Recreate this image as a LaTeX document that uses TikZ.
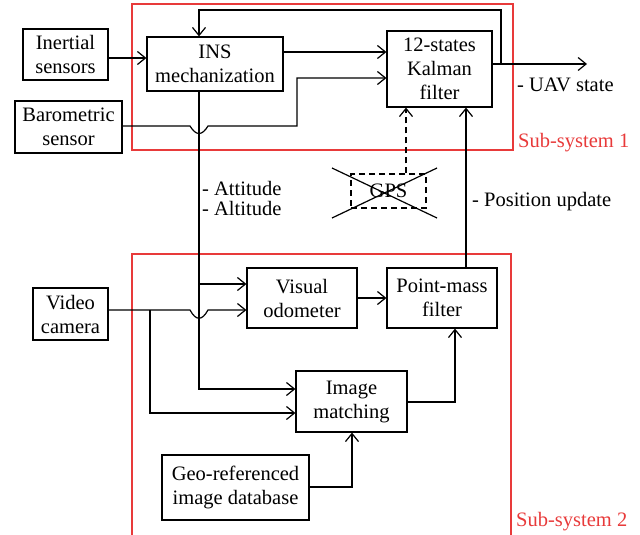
\documentclass[tikz,border=0pt]{standalone}
\usepackage{fontspec}
\setmainfont{Liberation Serif}
\usetikzlibrary{arrows.meta,calc}
\definecolor{subred}{RGB}{232,58,58}
\begin{document}
\begin{tikzpicture}[x=1pt,y=-1pt,
  every node/.style={font=\fontsize{20.5}{24}\selectfont},
  box/.style={draw,line width=1.2pt,align=center,inner sep=0pt},
  conn/.style={line width=1.2pt},
  arr/.style={conn,-{Straight Barb[length=8pt,width=13pt,line width=1.2pt]}},
  dsh/.style={dash pattern=on 6pt off 4pt},
  lbl/.style={anchor=west,inner sep=0pt},
  redbox/.style={draw=subred,line width=1.3pt}]
\useasboundingbox (0,0) rectangle (640,535);
% sub-system frames
\draw[redbox] (132,4) rectangle (513,150);
\draw[redbox] (132,540) -- (132,254) -- (511,254) -- (511,540);
\node[lbl,text=subred] (s1) at (518,143) {Sub-system 1};
\node[lbl,text=subred] (s2) at (516,522) {Sub-system 2};
% blocks
\node[box,minimum width=85,minimum height=51] (IS) at (65.5,54.5) {Inertial\\sensors};
\node[box,minimum width=136,minimum height=54] (INS) at (215,64) {INS\\mechanization};
\node[box,minimum width=107,minimum height=52] (BS) at (68.5,127) {Barometric\\sensor};
\node[box,minimum width=105,minimum height=76] (KF) at (439.5,69) {12-states\\Kalman\\filter};
\node[box,dsh,minimum width=75,minimum height=34] (GPS) at (388.5,191) {GPS};
\node[box,minimum width=110,minimum height=60] (VO) at (302,298) {Visual\\odometer};
\node[box,minimum width=110,minimum height=60] (PM) at (442,298) {Point-mass\\filter};
\node[box,minimum width=111,minimum height=61] (IM) at (351.5,401.5) {Image\\matching};
\node[box,minimum width=75,minimum height=52] (VC) at (70.5,314) {Video\\camera};
\node[box,minimum width=147,minimum height=65] (GR) at (235.5,487.5) {Geo-referenced\\image database};
% GPS cross
\draw[conn] (332,168) -- (437,218);
\draw[conn] (332,218) -- (437,168);
% connectors
\draw[arr] (IS.east |- 0,58) -- (INS.west |- 0,58);
\draw[arr] (INS.east |- 0,52) -- (KF.west |- 0,52);
\draw[arr] (BS.east |- 0,126) -- (190,126) .. controls (196,136) and (202,136) .. (208,126)
  -- (297,126) -- (297,78) -- (KF.west |- 0,78);
\coordinate (fb) at (501,64);
\draw[arr] (KF.east |- fb) -- (fb) -- (501,10) -- (199,10) -- (INS.north -| 199,0);
\coordinate (out) at (587,64);
\draw[arr] (KF.east |- out) -- (out);
\node[lbl] (uav) at (517,85) {- UAV state};
\draw[arr,dsh] (GPS.north -| 406,0) -- (KF.south -| 406,0);
\draw[arr] (PM.north -| 466,0) -- (KF.south -| 466,0);
\node[lbl] (pu) at (472,202) {- Position update};
\draw[arr] (INS.south -| 199,0) -- (199,389) -- (IM.west |- 0,389);
\draw[arr] (199,284) -- (VO.west |- 0,284);
\node[lbl] (att) at (202,188) {- Attitude};
\node[lbl] (alt) at (202,208) {- Altitude};
\draw[arr] (VC.east |- 0,310) -- (190,310) .. controls (196,321) and (202,321) .. (208,310) -- (VO.west |- 0,310);
\draw[arr] (150,310) -- (150,413) -- (IM.west |- 0,413);
\draw[arr] (VO.east) -- (PM.west);
\draw[arr] (IM.east |- 0,402) -- (455,402) -- (PM.south -| 455,0);
\draw[arr] (GR.east |- 0,487) -- (352,487) -- (IM.south -| 352,0);
\end{tikzpicture}
\end{document}
